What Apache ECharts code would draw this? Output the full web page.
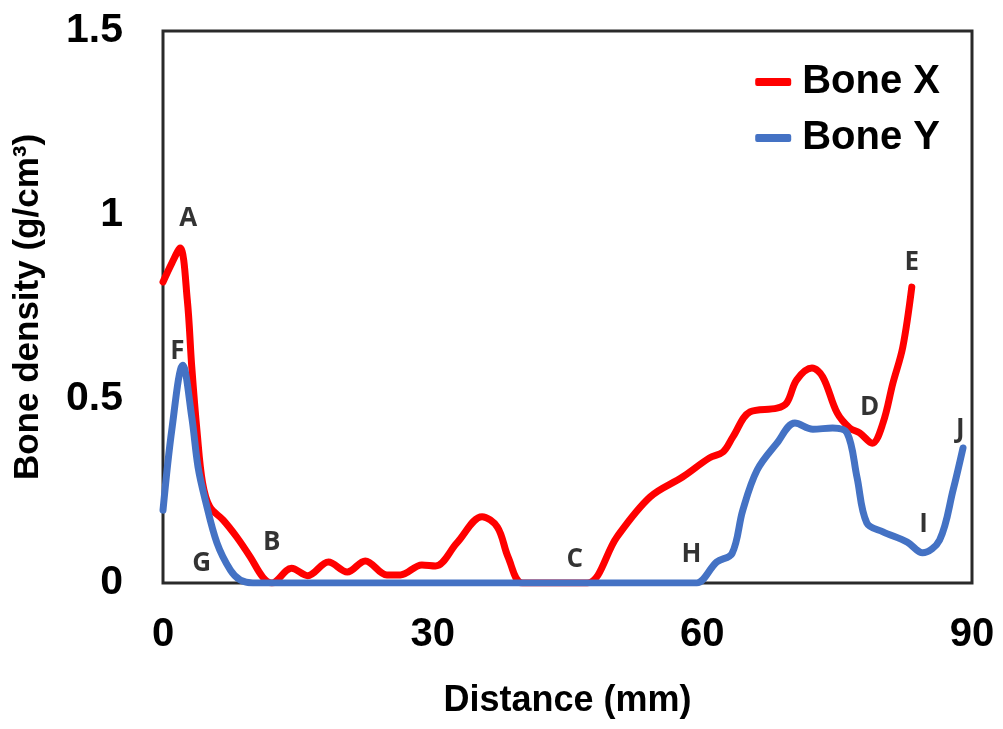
<!DOCTYPE html>
<html>
<head>
<meta charset="utf-8">
<script src="https://cdn.jsdelivr.net/npm/echarts@6/dist/echarts.min.js"></script>
<style>
  html, body { margin: 0; padding: 0; background: #fff; }
  #chart { width: 1003px; height: 729px; }
</style>
</head>
<body>
<div id="chart"></div>
<script>
// Density profile along the scan, distance (mm) vs density (g/cm3)
const boneXDistance = [0, 1.0, 1.9, 2.7, 3.2, 3.8, 4.4, 5.2, 6.7, 8.2, 9.7, 11.1, 12.1,
  14.3, 16.1, 18.4, 20.5, 22.5, 24.9, 26.4, 28.8, 30.3, 32.7, 35.5, 37.2, 38.4, 40.0,
  44.0, 47.2, 50.5, 54.2, 57.8, 60.8, 62.3, 63.4, 65.3, 68.3, 69.4, 70.5, 72.2, 73.4,
  75.0, 76.4, 77.5, 78.9, 80.1, 81.2, 82.3, 83.3];
const boneXDensity = [0.818, 0.87, 0.91, 0.77, 0.587, 0.408, 0.272, 0.207, 0.171, 0.125, 0.071, 0.016, 0.0,
  0.04, 0.02, 0.057, 0.03, 0.06, 0.022, 0.022, 0.049, 0.046, 0.109, 0.18, 0.152, 0.07, 0.0,
  0.0, 0.0, 0.125, 0.234, 0.288, 0.34, 0.356, 0.397, 0.465, 0.475, 0.49, 0.552, 0.584, 0.56,
  0.462, 0.421, 0.408, 0.38, 0.435, 0.543, 0.641, 0.804];

const boneYDistance = [0, 1.0, 2.2, 3.2, 3.9, 4.7, 6.0, 7.5, 8.6, 10.0, 30.0, 59.0, 59.4,
  61.6, 63.3, 64.5, 66.1, 68.3, 70.3, 72.3, 74.5, 76.1, 77.2, 78.3, 80.1, 82.8, 84.5,
  86.4, 87.9, 89.0];
const boneYDensity = [0.198, 0.42, 0.592, 0.451, 0.315, 0.226, 0.109, 0.035, 0.008, 0.0, 0.0, 0.0, 0.0,
  0.057, 0.08, 0.198, 0.307, 0.38, 0.435, 0.418, 0.421, 0.408, 0.288, 0.163, 0.139, 0.111, 0.082,
  0.117, 0.253, 0.367];

// Point annotations A-J
const markNames = ['A', 'B', 'C', 'D', 'E', 'F', 'G', 'H', 'I', 'J'];
const markDistance = [2.8, 12.1, 45.8, 78.6, 83.3, 1.6, 4.3, 58.8, 84.6, 88.7];
const markDensity = [0.99, 0.111, 0.0625, 0.478, 0.872, 0.628, 0.054, 0.076, 0.158, 0.416];

const xTicks = [0, 30, 60, 90];
const yTicks = [0, 0.5, 1, 1.5];

const zip = (xs, ys) => xs.map((x, i) => [x, ys[i]]);

const chart = echarts.init(document.getElementById('chart'));
chart.setOption({
  animation: false,
  backgroundColor: '#ffffff',
  textStyle: { fontFamily: 'Liberation Sans, Arial, sans-serif', color: '#000' },
  grid: {
    left: 163, right: 31, top: 31, bottom: 146,
    show: true, borderColor: '#2a2a2a', borderWidth: 3, backgroundColor: 'transparent'
  },
  legend: {
    orient: 'vertical',
    right: 58, top: 57,
    itemGap: 16,
    itemWidth: 36, itemHeight: 8,
    icon: 'roundRect',
    textStyle: { fontSize: 40, fontWeight: 'bold', color: '#000', fontFamily: 'Liberation Sans, Arial, sans-serif', padding: [0, 0, 0, 6] },
    data: ['Bone X', 'Bone Y']
  },
  xAxis: {
    type: 'value', min: 0, max: 90, interval: 30,
    axisLine: { show: false }, axisTick: { show: false }, splitLine: { show: false },
    axisLabel: {
      margin: 32, fontSize: 40, fontWeight: 'bold', color: '#000',
      formatter: v => xTicks.includes(v) ? String(v) : ''
    },
    name: 'Distance (mm)', nameLocation: 'middle', nameGap: 100,
    nameTextStyle: { fontSize: 36, fontWeight: 'bold', color: '#000' }
  },
  yAxis: {
    type: 'value', min: 0, max: 1.5, interval: 0.5,
    axisLine: { show: false }, axisTick: { show: false }, splitLine: { show: false },
    axisLabel: {
      margin: 40, fontSize: 41, fontWeight: 'bold', color: '#000',
      formatter: v => yTicks.includes(v) ? String(v) : ''
    },
    name: 'Bone density (g/cm³)', nameLocation: 'middle', nameGap: 117, nameRotate: 90,
    nameTextStyle: { fontSize: 35, fontWeight: 'bold', color: '#000' }
  },
  series: [
    {
      name: 'Bone X', type: 'line', smooth: 0.35, showSymbol: false, z: 2,
      color: '#ff0000',
      lineStyle: { width: 7, color: '#ff0000', cap: 'round', join: 'round' },
      data: zip(boneXDistance, boneXDensity)
    },
    {
      name: 'Bone Y', type: 'line', smooth: 0.35, showSymbol: false, z: 3,
      color: '#4472c4',
      lineStyle: { width: 7, color: '#4472c4', cap: 'round', join: 'round' },
      data: zip(boneYDistance, boneYDensity)
    },
    {
      name: 'marks', type: 'scatter', symbolSize: 0, z: 4, silent: true,
      label: {
        show: true, position: 'inside',
        formatter: p => markNames[p.dataIndex],
        fontSize: 26, fontWeight: 'bold', color: '#000',
        fontFamily: 'Open Sans, sans-serif'
      },
      data: zip(markDistance, markDensity)
    }
  ]
});
</script>
</body>
</html>
